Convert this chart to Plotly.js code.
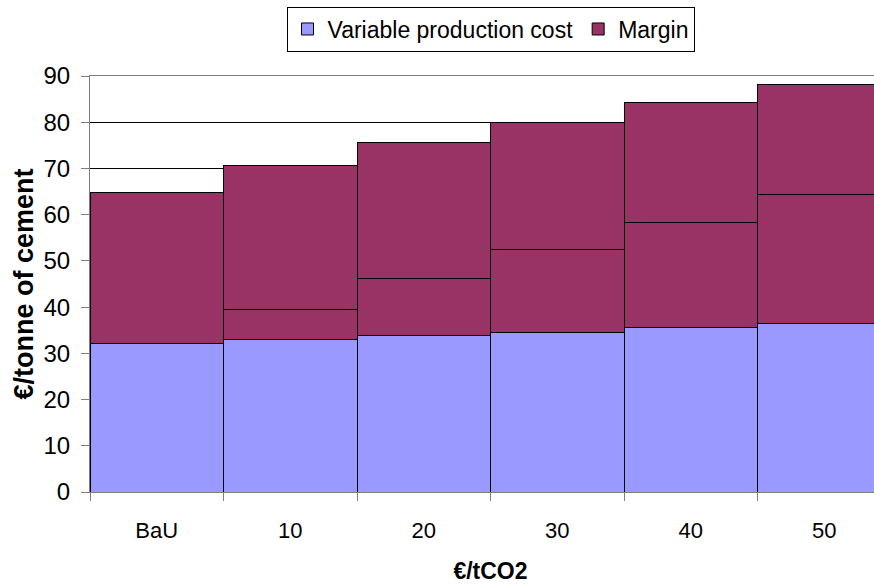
<!DOCTYPE html>
<html>
<head>
<meta charset="utf-8">
<script src="https://cdn.plot.ly/plotly-3.0.1.min.js"></script>
<style>
html, body { margin: 0; padding: 0; overflow: hidden; background: #fff; }
#chart { width: 892px; height: 585px; }
</style>
</head>
<body>
<div id="chart"></div>
<script>
// Data
const categories = ['BaU', '10', '20', '30', '40', '50'];
const variableCost = [32.1, 33.1, 33.8, 34.6, 35.5, 36.5];
const co2PassThrough = [0, 6.3, 12.3, 17.8, 22.9, 27.9];
const margin = [32.8, 31.2, 29.5, 27.5, 25.8, 23.8];
const yTicks = [0, 10, 20, 30, 40, 50, 60, 70, 80, 90];

const FONT = '"Liberation Sans", Arial, sans-serif';
const outline = { color: '#000000', width: 1 };

const traces = [
  { type: 'bar', name: 'Variable production cost', x: categories, y: variableCost,
    marker: { color: '#9999FF', line: outline }, hoverinfo: 'x+y+name' },
  { type: 'bar', name: 'CO2 cost pass-through', x: categories, y: co2PassThrough,
    marker: { color: '#993366', line: outline }, showlegend: false, hoverinfo: 'x+y+name' },
  { type: 'bar', name: 'Margin', x: categories, y: margin,
    marker: { color: '#993366', line: outline }, hoverinfo: 'x+y+name' }
];

const layout = {
  width: 892, height: 585,
  margin: { l: 90, r: 1, t: 76, b: 93 },
  barmode: 'stack', bargap: 0,
  paper_bgcolor: '#ffffff', plot_bgcolor: '#ffffff',
  font: { family: FONT, color: '#000000', size: 22 },
  showlegend: true,
  legend: {
    orientation: 'h', x: 0.5, xanchor: 'center', y: 1.167, yanchor: 'top',
    bordercolor: '#000000', borderwidth: 1, bgcolor: '#ffffff',
    font: { family: FONT, size: 23, color: '#000000' },
    traceorder: 'normal', itemclick: false
  },
  xaxis: {
    type: 'category', tickson: 'boundaries', ticks: 'outside', ticklen: 8,
    tickcolor: '#808080', showline: true, mirror: true, linecolor: '#808080', linewidth: 1,
    showgrid: false, zeroline: false, fixedrange: true, ticklabelstandoff: 19,
    tickfont: { family: FONT, size: 22 },
    title: { text: '€/tCO2', font: { family: FONT, size: 23, weight: 'bold' }, standoff: 20 }
  },
  yaxis: {
    range: [0, 90], tickvals: yTicks, ticktext: yTicks.map(String),
    ticks: 'outside', ticklen: 8, tickcolor: '#808080', ticklabelstandoff: 6,
    showline: true, linecolor: '#808080', linewidth: 1,
    showgrid: true, gridcolor: '#000000', gridwidth: 1, zeroline: false, fixedrange: true,
    tickfont: { family: FONT, size: 24 },
    title: { text: '€/tonne of cement', font: { family: FONT, size: 27, weight: 'bold' }, standoff: 2 }
  }
};

Plotly.newPlot('chart', traces, layout, { displayModeBar: false, staticPlot: true });
</script>
</body>
</html>
